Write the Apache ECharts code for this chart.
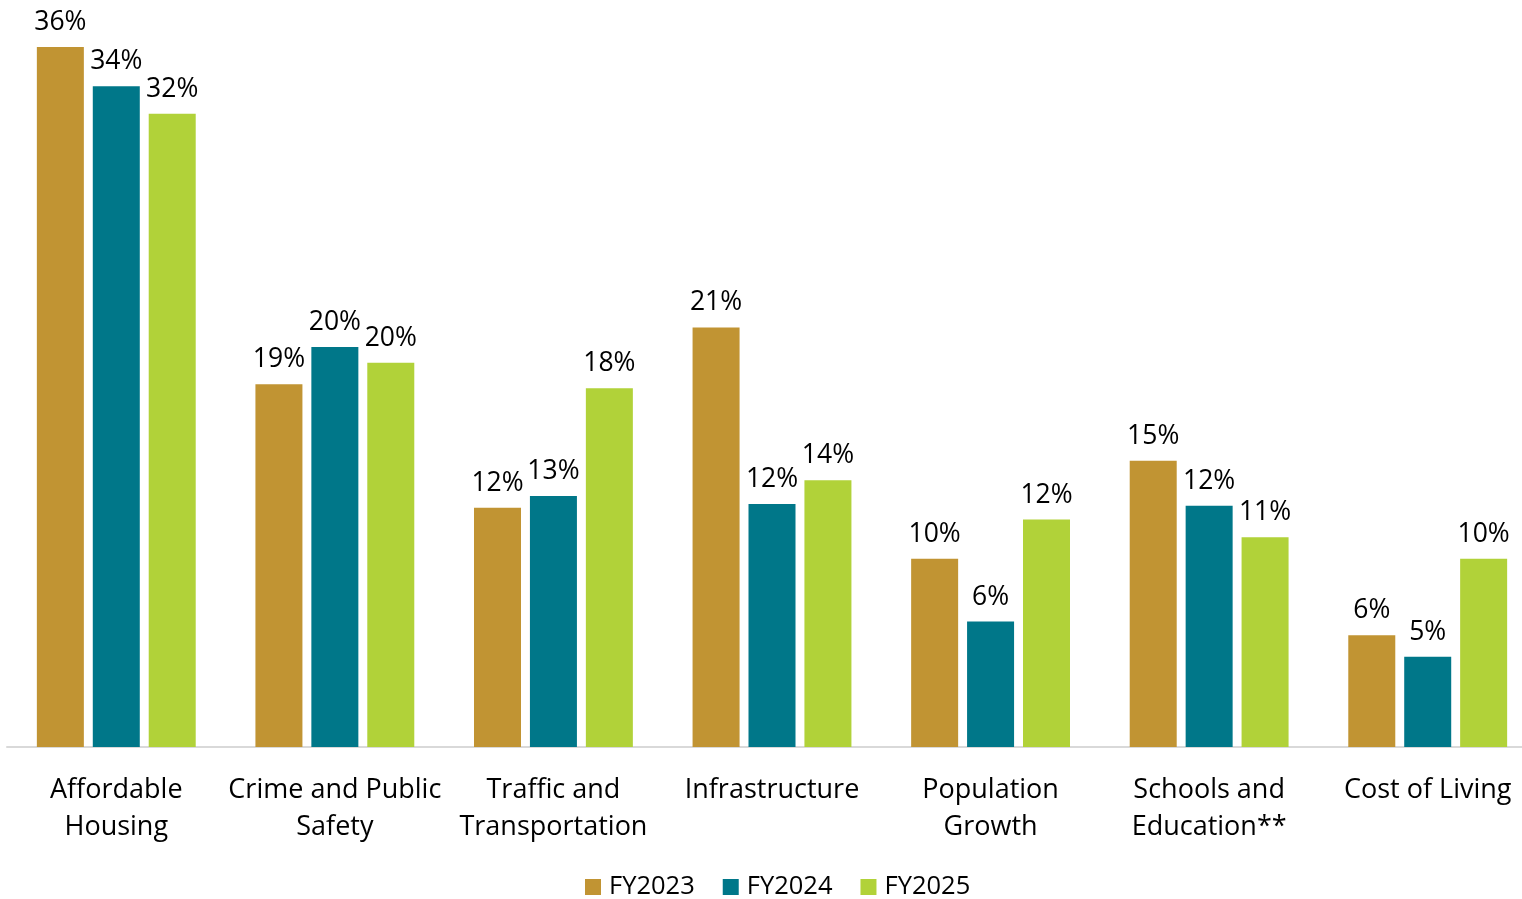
<!DOCTYPE html>
<html>
<head>
<meta charset="utf-8">
<title>Top Concerns by Fiscal Year</title>
<script src="https://cdn.jsdelivr.net/npm/echarts@6/dist/echarts.min.js"></script>
<style>
  html, body { margin: 0; padding: 0; background: #ffffff; }
  #chart { width: 1522px; height: 899px; }
</style>
</head>
<body>
<div id="chart"></div>
<script>
// Share of respondents naming each issue, in percent
const categories = [
  'Affordable\nHousing',
  'Crime and Public\nSafety',
  'Traffic and\nTransportation',
  'Infrastructure',
  'Population\nGrowth',
  'Schools and\nEducation**',
  'Cost of Living'
];
const seriesNames = ['FY2023', 'FY2024', 'FY2025'];
const fy2023 = [35.7, 18.5, 12.2, 21.4, 9.6, 14.6, 5.7];
const fy2024 = [33.7, 20.4, 12.8, 12.4, 6.4, 12.3, 4.6];
const fy2025 = [32.3, 19.6, 18.3, 13.6, 11.6, 10.7, 9.6];
const colors = ['#C19433', '#007789', '#B1D239'];

const FONT = '"Open Sans", "Noto Sans", sans-serif';

function barSeries(name, data, color) {
  return {
    name: name,
    type: 'bar',
    data: data,
    barWidth: 47,
    barGap: '19%',
    itemStyle: { color: color },
    label: {
      show: true,
      position: 'top',
      distance: 11,
      color: '#000000',
      fontFamily: FONT,
      fontSize: 26.5,
      formatter: p => Math.round(p.value) + '%'
    }
  };
}

const chart = echarts.init(document.getElementById('chart'), null, { renderer: 'canvas' });
chart.setOption({
  animation: false,
  backgroundColor: '#ffffff',
  color: colors,
  grid: {
    left: 7,
    top: 2,
    width: 1530,
    height: 745,
    containLabel: false,
    outerBoundsMode: 'none'
  },
  legend: {
    data: seriesNames,
    bottom: -1,
    left: 585,
    padding: 0,
    itemWidth: 16,
    itemHeight: 16,
    itemGap: 28,
    icon: 'rect',
    textStyle: { fontFamily: FONT, fontSize: 25.5, color: '#000000', padding: [0, 0, 0, 3] }
  },
  xAxis: {
    type: 'category',
    data: categories,
    axisLine: { show: true, lineStyle: { color: '#D9D9D9', width: 2 } },
    axisTick: { show: false },
    axisLabel: {
      interval: 0,
      margin: 25,
      color: '#000000',
      fontFamily: FONT,
      fontSize: 27,
      lineHeight: 37
    }
  },
  yAxis: {
    type: 'value',
    min: 0,
    max: 38,
    show: false,
    splitLine: { show: false }
  },
  series: [
    barSeries(seriesNames[0], fy2023, colors[0]),
    barSeries(seriesNames[1], fy2024, colors[1]),
    barSeries(seriesNames[2], fy2025, colors[2])
  ]
});
</script>
</body>
</html>
